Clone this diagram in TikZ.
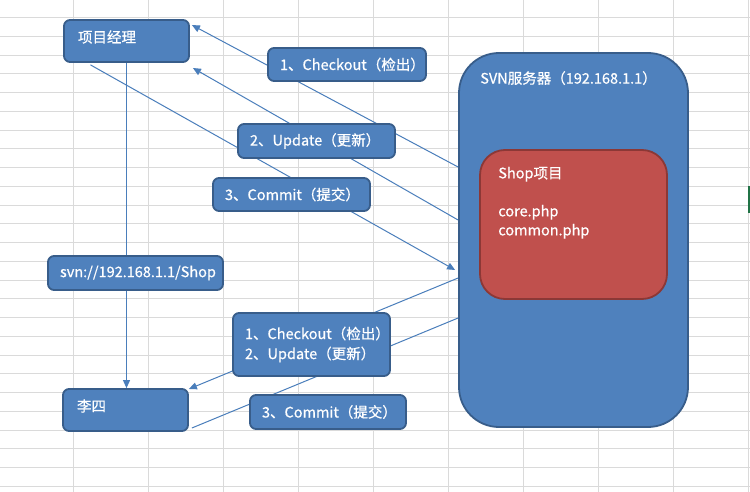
\documentclass[tikz,border=0pt]{standalone}
\usepackage{fontspec}
\setmainfont{Noto Sans CJK SC}[FakeBold=0.6]
\usepackage{tikz}
\usetikzlibrary{arrows.meta}
\usetikzlibrary{positioning}

\definecolor{boxblue}{RGB}{79,129,189}
\definecolor{boxline}{RGB}{56,93,138}
\definecolor{shopred}{RGB}{192,80,77}
\definecolor{shopline}{RGB}{140,56,54}
\definecolor{linkblue}{RGB}{74,126,187}
\definecolor{gridgray}{RGB}{218,218,218}
\definecolor{cellgreen}{RGB}{33,115,70}

\pgfdeclarelayer{background}
\pgfsetlayers{background,main}

\newcommand\lblfont{\fontsize{14.5}{20}\selectfont}

\begin{document}
\begin{tikzpicture}[x=1pt,y=-1pt,
    box/.style={draw=boxline,fill=boxblue,line width=1.8pt,rounded corners=6pt,
      text=white,font=\lblfont,align=flush left,inner xsep=12pt,inner ysep=0pt},
    person/.style={box,inner xsep=14pt,text height=12pt,text depth=9pt},
    link/.style={draw=linkblue,line width=1pt},
    arr/.style={link,-{Triangle[length=8pt,width=7pt]}}]
  % sheet and its grid
  \useasboundingbox (0,0) rectangle (750,492);
  \begin{pgfonlayer}{background}
    \fill[white] (0,0) rectangle (750,492);
    \foreach \c in {0,...,9}
      \draw[gridgray] (73+75*\c,0) -- (73+75*\c,492);
    \foreach \l in {0,...,25}
      \draw[gridgray] (0,17.3+18.75*\l) -- (750,17.3+18.75*\l);
    \draw[cellgreen,line width=2pt] (748.5,186) -- (748.5,213);
  \end{pgfonlayer}

  %% the boxes
  \node[person,minimum width=125pt,minimum height=42pt,text width=97pt] (pm) at (126.5,41) {项目经理};
  \node[person,minimum width=125pt,minimum height=42pt,text width=97pt] (ls) at (125.5,410) {李四};
  \node[box,minimum width=158pt,minimum height=33pt,text width=134pt] (co) at (347,64.5) {1、Checkout（检出）};
  \node[box,minimum width=157pt,minimum height=34pt,text width=133pt] (up) at (316.5,141) {2、Update（更新）};
  \node[box,minimum width=157pt,minimum height=33pt,text width=133pt] (cm) at (291.5,194.5) {3、Commit（提交）};
  \node[box,minimum width=175pt,minimum height=34pt,text width=151pt] (url) at (135.5,273) {svn://192.168.1.1/Shop};
  \node[box,minimum width=157pt,minimum height=63pt,text width=133pt] (coup) at (311.5,344.5) {1、Checkout（检出）\\2、Update（更新）};
  \node[box,minimum width=156pt,minimum height=34pt,text width=132pt] (cmb) at (328,412) {3、Commit（提交）};

  % server
  \node[box,rounded corners=40pt,minimum width=229pt,minimum height=374pt] (svn) at (573.5,240) {};
  \node[anchor=west,inner sep=0pt,text=white,font=\lblfont] (svntitle) at ([xshift=22pt,yshift=-26pt]svn.north west) {SVN服务器（192.168.1.1）};
  \node[draw=shopline,fill=shopred,line width=1.8pt,rounded corners=25pt,minimum width=187pt,minimum height=149pt] (shop) at (573.5,224.5) {};
  \node[anchor=north west,inner sep=0pt,text=white,font=\fontsize{14.5}{19}\selectfont,align=left] (shoptext)
    at ([xshift=19pt,yshift=-17.5pt]shop.north west) {Shop项目\\[19pt]core.php\\common.php};

  %% the connectors, under the boxes
  \begin{pgfonlayer}{background}
    \draw[arr] (pm.south) -- (pm.south |- ls.north);
    \draw[arr] ([yshift=73pt]svn.west) -- ([xshift=2pt,yshift=16pt]pm.east);   % checkout
    \draw[arr] ([yshift=20pt]svn.west) -- ([xshift=3pt,yshift=-27pt]pm.east);  % update
    \draw[arr] ([xshift=-36pt,yshift=-2pt]pm.south) -- ([xshift=-3pt,yshift=-30pt]svn.west); % commit
    \draw[arr] ([yshift=-38pt]svn.west) -- ([yshift=21pt]ls.east);
    \draw[link] ([xshift=3pt,yshift=-18pt]ls.east) -- ([yshift=-78pt]svn.west);
  \end{pgfonlayer}
\end{tikzpicture}
\end{document}
